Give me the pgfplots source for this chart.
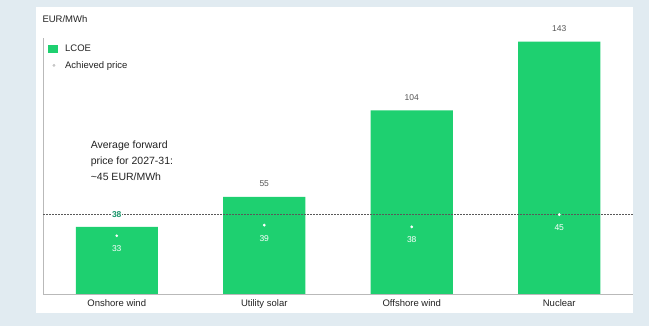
\documentclass[border=0pt]{standalone}
\usepackage{pgfplots}
\pgfplotsset{compat=1.18}
\usepackage{fontspec}
\setmainfont{Liberation Sans}
\definecolor{bg}{RGB}{225,235,241}
\definecolor{barg}{RGB}{30,208,112}
\definecolor{tealc}{RGB}{26,150,106}
\definecolor{txt}{RGB}{35,35,35}
\definecolor{vtxt}{RGB}{85,85,85}
\begin{document}
\begin{tikzpicture}
\fill[bg] (0,0) rectangle (649pt,326pt);
\fill[white] (36pt,13pt) rectangle (633pt,319pt);
\begin{axis}[
  at={(43pt,32pt)}, anchor=south west,
  scale only axis, width=590pt, height=256pt,
  xmin=-0.5, xmax=3.5, ymin=0, ymax=145,
  axis x line=bottom, axis y line=left,
  axis line style={draw=gray!55, -},
  ytick=\empty,
  xtick={0,1,2,3},
  xticklabels={Onshore wind,Utility solar,Offshore wind,Nuclear},
  major tick length=0pt,
  xticklabel style={font=\fontsize{9.5}{11}\selectfont, text=txt, yshift=-2pt},
  legend style={at={(rel axis cs:0.006,0.985)}, anchor=north west, draw=none, fill=none,
    font=\fontsize{9.5}{11}\selectfont, text=txt, row sep=4pt, inner sep=1pt},
  legend cell align=left,
  clip=false,
]
\addplot[ybar, bar width=82pt, fill=barg, draw=none,
  legend image code/.code={\fill[barg] (0pt,-4pt) rectangle (10.5pt,4pt); \path (15pt,0pt);}]
  coordinates {(0,38) (1,55) (2,104) (3,143)};
\addlegendentry{LCOE}
\addplot[only marks, mark=*, mark size=1.2pt, white,
  legend image code/.code={\fill[gray!45] (6pt,0pt) circle (1.2pt); \path (0pt,0pt) (15pt,0pt);},
  nodes near coords, point meta=explicit symbolic,
  every node near coord/.append style={anchor=center, yshift=-13pt, text=white, font=\fontsize{8.5}{10}\selectfont}]
  coordinates {(0,33) [33] (1,39) [39] (2,38) [38] (3,45) [45]};
\addlegendentry{Achieved price}
\addplot[forget plot, draw=gray!70!black, line width=0.6pt, dash pattern=on 1.5pt off 1.5pt] coordinates {(-0.5,45) (3.5,45)};
\addplot[forget plot, draw=none, mark=none, nodes near coords, point meta=explicit symbolic,
  every node near coord/.append style={anchor=center, yshift=13pt, text=vtxt, font=\fontsize{8.5}{10}\selectfont}]
  coordinates {(1,55) [55] (2,104) [104] (3,143) [143]};
\addplot[forget plot, draw=none, mark=none, nodes near coords, point meta=explicit symbolic,
  every node near coord/.append style={anchor=center, yshift=12pt, text=tealc, fill=white, inner sep=1pt, font=\bfseries\fontsize{8.5}{10}\selectfont}]
  coordinates {(0,38) [38]};
\node[anchor=west, text=txt, font=\fontsize{9.5}{11}\selectfont] at (rel axis cs:0,1) [xshift=-4pt, yshift=19pt] {EUR/MWh};
\node[anchor=north west, align=left, text=txt, font=\fontsize{10.5}{16}\selectfont] at (axis cs:-0.2,89) {Average forward\\price for 2027-31:\\\textasciitilde45 EUR/MWh};
\end{axis}
\pgfresetboundingbox
\useasboundingbox (0,0) rectangle (649pt,326pt);
\end{tikzpicture}
\end{document}
